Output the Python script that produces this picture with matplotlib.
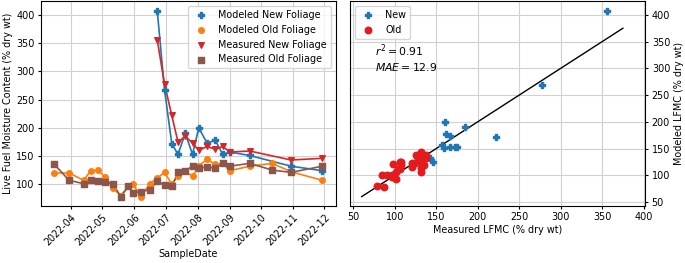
import numpy as np
import pandas as pd
import matplotlib
matplotlib.use("Agg")
import matplotlib.pyplot as plt
import matplotlib.dates as mdates

plt.rcParams['font.size'] = 6.9
plt.rcParams['xtick.major.size'] = 2.5
plt.rcParams['ytick.major.size'] = 2.5
plt.rcParams['xtick.major.pad'] = 2.2
plt.rcParams['ytick.major.pad'] = 2.2
plt.rcParams['axes.labelpad'] = 2.0

# datas de amostragem (folhagem velha) e valores LFMC [% dry wt]
old_dates = ['2022-03-16', '2022-03-30', '2022-04-13', '2022-04-20', '2022-04-27',
             '2022-05-04', '2022-05-11', '2022-05-19', '2022-05-26', '2022-05-31',
             '2022-06-07', '2022-06-16', '2022-06-23', '2022-06-30', '2022-07-07',
             '2022-07-13', '2022-07-20', '2022-07-27', '2022-08-02', '2022-08-10',
             '2022-08-18', '2022-08-25', '2022-09-01', '2022-09-20', '2022-10-12',
             '2022-10-30', '2022-11-29']
meas_old = [135, 107, 101, 108, 106, 104, 101, 78, 96, 84, 87, 90, 106, 98, 96,
            121, 124, 132, 128, 131, 128, 137, 132, 137, 125, 121, 132]
mod_old = [120, 120, 107, 124, 125, 112, 93, 80, 96, 100, 78, 101, 111, 121, 100,
           115, 123, 114, 133, 144, 135, 137, 124, 132, 137, 122, 107]

# folhagem nova
new_dates = ['2022-06-23', '2022-06-30', '2022-07-07', '2022-07-13', '2022-07-20',
             '2022-07-27', '2022-08-02', '2022-08-10', '2022-08-18', '2022-08-25',
             '2022-09-01', '2022-09-20', '2022-10-30', '2022-11-29']
meas_new = [356, 278, 222, 175, 185, 173, 160, 167, 162, 167, 157, 159, 143, 146]
mod_new = [408, 268, 172, 153, 190, 153, 200, 173, 178, 153, 157, 151, 132, 124]

one_to_one = [60, 375]      # linha 1:1
stats_text = "$r^2 = 0.91$\n$MAE = 12.9$"

d_old = pd.to_datetime(old_dates)
d_new = pd.to_datetime(new_dates)

fig = plt.figure(figsize=(6.85, 2.63), dpi=100)
ax1 = fig.add_axes([0.060, 0.217, 0.430, 0.778])
ax2 = fig.add_axes([0.511, 0.217, 0.431, 0.778])

lw = 1.2
ax1.plot(d_new, mod_new, '-', color='tab:blue', lw=lw)
ax1.plot(d_old, mod_old, '-', color='tab:orange', lw=lw)
ax1.plot(d_new, meas_new, '-', color='tab:red', lw=lw)
ax1.plot(d_old, meas_old, '-', color='tab:brown', lw=lw)
ax1.scatter(d_new, mod_new, marker='P', s=16, color='tab:blue', label='Modeled New Foliage', zorder=3)
ax1.scatter(d_old, mod_old, marker='o', s=16, color='tab:orange', label='Modeled Old Foliage', zorder=3)
ax1.scatter(d_new, meas_new, marker='v', s=16, color='tab:red', label='Measured New Foliage', zorder=3)
ax1.scatter(d_old, meas_old, marker='s', s=16, color='tab:brown', label='Measured Old Foliage', zorder=3)
ax1.xaxis.set_major_locator(mdates.MonthLocator())
ax1.xaxis.set_major_formatter(mdates.DateFormatter('%Y-%m'))
plt.setp(ax1.get_xticklabels(), rotation=45, ha='right', rotation_mode='anchor')
ax1.set_xlabel('SampleDate', labelpad=1)
ax1.set_ylabel('Live Fuel Moisture Content (% dry wt)')
ax1.grid(True, color='#d0d0d0')
ax1.set_axisbelow(True)
ax1.legend(loc='upper right')

ax2.scatter(meas_new, mod_new, marker='P', s=22, color='tab:blue', label='New', zorder=3)
ax2.scatter(meas_old, mod_old, marker='o', s=22, color='#e41a1c', label='Old', zorder=3)
ax2.plot(one_to_one, one_to_one, 'k-', lw=1.0)
ax2.text(0.085, 0.80, stats_text, transform=ax2.transAxes, va='top', fontsize=7.8)
ax2.set_xlim(46, 402)
ax2.yaxis.tick_right()
ax2.yaxis.set_label_position('right')
ax2.set_xlabel('Measured LFMC (% dry wt)')
ax2.set_ylabel('Modeled LFMC (% dry wt)', labelpad=3)
ax2.grid(True, color='#d0d0d0')
ax2.set_axisbelow(True)
ax2.legend(loc='upper left')

fig.savefig('out.png', dpi=100)
